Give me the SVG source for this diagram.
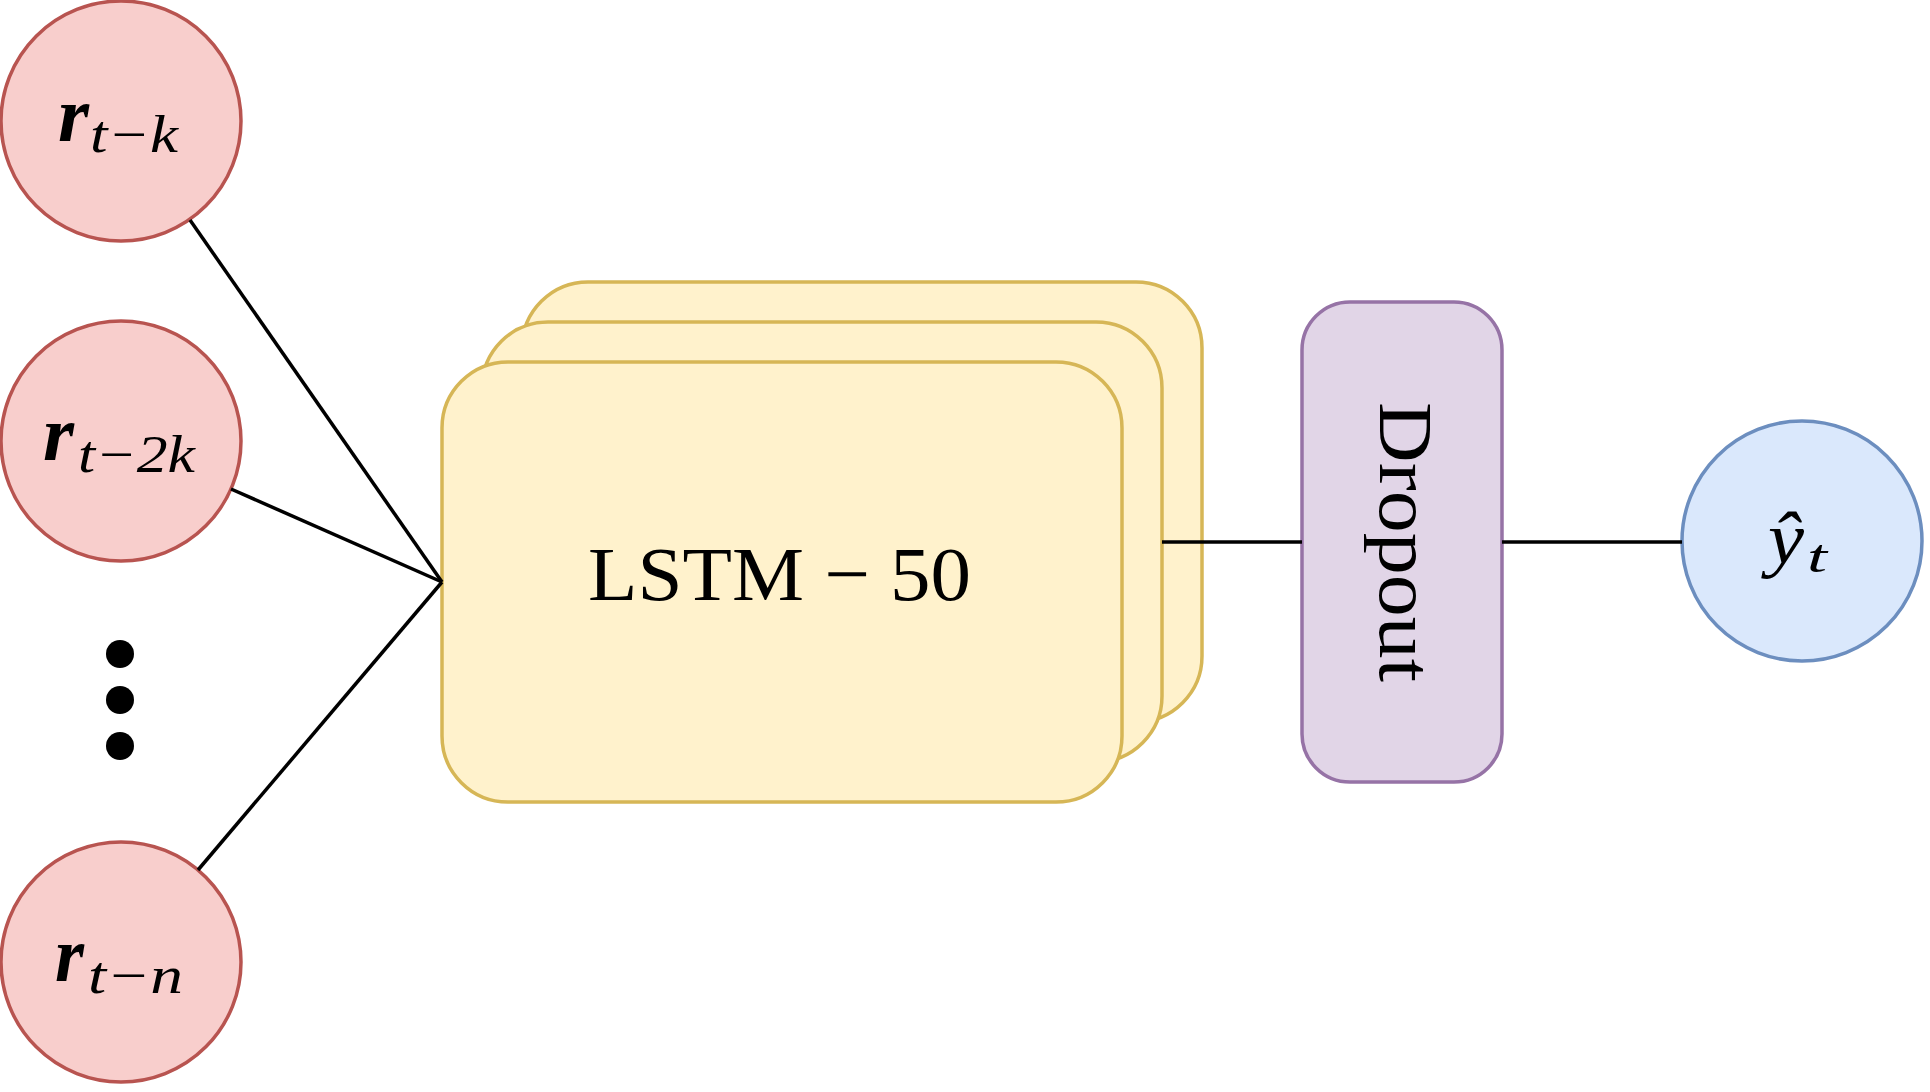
<svg xmlns="http://www.w3.org/2000/svg" width="1930" height="1092" viewBox="0 0 1930 1092">
<style>
.in{fill:#f8cecc;stroke:#b85450;stroke-width:3.5}
.lstm{fill:#fff2cc;stroke:#d6b656;stroke-width:3.5}
.drop{fill:#e1d5e7;stroke:#9673a6;stroke-width:3.5}
.out{fill:#dae8fc;stroke:#6c8ebf;stroke-width:3.5}
.conn line{stroke:#000;stroke-width:3.5;fill:none}
.m{font-family:"Liberation Serif","DejaVu Serif",serif;fill:#000}
.mb{font-style:italic;font-weight:bold;font-size:78px}
.ms{font-style:italic;font-size:52px}
.rm{font-size:77px}
</style>
<rect width="1930" height="1092" fill="#fff"/>
<g id="node-r-t-k">
<circle class="in" cx="121" cy="121" r="120"/>
<text class="m mb" x="58" y="141" textLength="31" lengthAdjust="spacingAndGlyphs">r</text>
<text class="m ms" x="90" y="152" textLength="88" lengthAdjust="spacingAndGlyphs">t−k</text>
</g>
<g id="node-r-t-2k">
<circle class="in" cx="121" cy="441" r="120"/>
<text class="m mb" x="43" y="460" textLength="31" lengthAdjust="spacingAndGlyphs">r</text>
<text class="m ms" x="78" y="472" textLength="117" lengthAdjust="spacingAndGlyphs">t−2k</text>
</g>
<g id="node-dots">
<circle cx="120" cy="654" r="14" fill="#000"/>
<circle cx="120" cy="700" r="14" fill="#000"/>
<circle cx="120" cy="746" r="14" fill="#000"/>
</g>
<g id="node-r-t-n">
<circle class="in" cx="121" cy="962" r="120"/>
<text class="m mb" x="55" y="981" textLength="29" lengthAdjust="spacingAndGlyphs">r</text>
<text class="m ms" x="88" y="993" textLength="95" lengthAdjust="spacingAndGlyphs">t−n</text>
</g>
<g id="node-lstm">
<rect class="lstm" x="522" y="282" width="680" height="440" rx="66" ry="66"/>
<rect class="lstm" x="482" y="322" width="680" height="440" rx="66" ry="66"/>
<rect class="lstm" x="442" y="362" width="680" height="440" rx="66" ry="66"/>
<text class="m rm" x="588" y="600" textLength="383" lengthAdjust="spacingAndGlyphs">LSTM − 50</text>
</g>
<g id="node-dropout">
<rect class="drop" x="1302" y="302" width="200" height="480" rx="48" ry="48"/>
<text class="m rm" transform="translate(1380,542) rotate(90)" x="0" y="0" text-anchor="middle" textLength="280" lengthAdjust="spacingAndGlyphs">Dropout</text>
</g>
<g id="node-output">
<circle class="out" cx="1802" cy="541" r="120"/>
<text class="m" x="1768" y="563" font-style="italic" font-size="74" textLength="36" lengthAdjust="spacingAndGlyphs">ŷ</text>
<text class="m" x="1807" y="572" font-style="italic" font-size="46" textLength="20" lengthAdjust="spacingAndGlyphs">t</text>
</g>
<g id="connectors" class="conn">
<line x1="190" y1="220" x2="442" y2="582"/>
<line x1="231" y1="489" x2="442" y2="582"/>
<line x1="198" y1="870" x2="442" y2="582"/>
<line x1="1162" y1="542" x2="1302" y2="542"/>
<line x1="1502" y1="542" x2="1682" y2="542"/>
</g>
</svg>
